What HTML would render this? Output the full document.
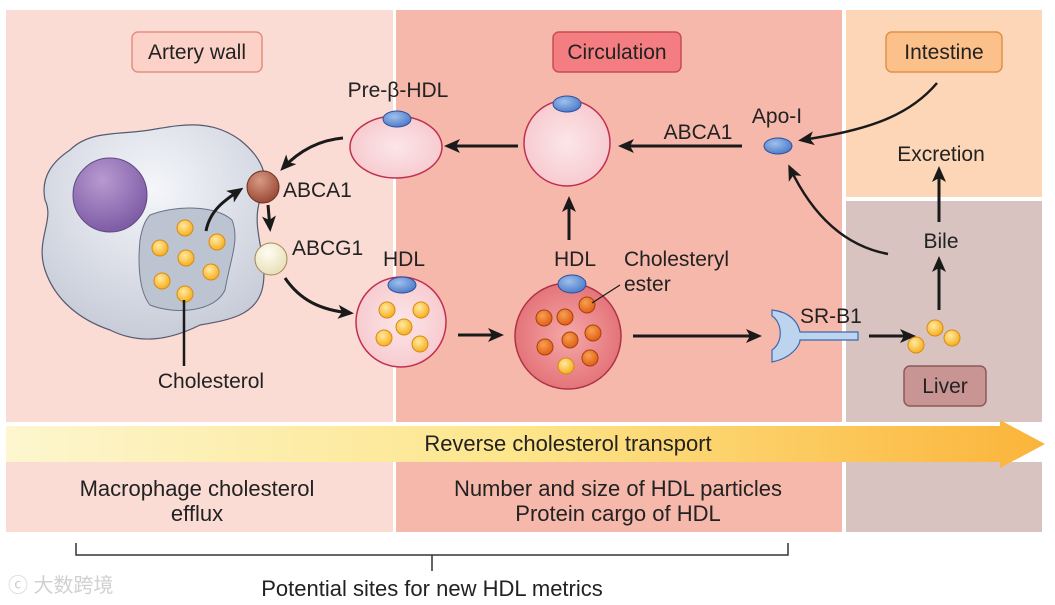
<!DOCTYPE html>
<html><head><meta charset="utf-8"><style>
html,body{margin:0;padding:0;background:#fff;}
svg{display:block;font-family:"Liberation Sans",Arial,sans-serif;}
</style></head><body>
<svg width="1055" height="605" viewBox="0 0 1055 605" xmlns="http://www.w3.org/2000/svg">
<defs>
<linearGradient id="band" x1="0" x2="1" y1="0" y2="0">
<stop offset="0" stop-color="#fdf6cf"/><stop offset="0.5" stop-color="#fde58a"/><stop offset="1" stop-color="#fbb43a"/>
</linearGradient>
<radialGradient id="yel" cx="0.4" cy="0.35" r="0.6"><stop offset="0" stop-color="#ffeaa0"/><stop offset="1" stop-color="#f7b42c"/></radialGradient>
<radialGradient id="org" cx="0.4" cy="0.35" r="0.6"><stop offset="0" stop-color="#f8a050"/><stop offset="1" stop-color="#e2651a"/></radialGradient>
<radialGradient id="blue" cx="0.4" cy="0.35" r="0.7"><stop offset="0" stop-color="#9fc0ec"/><stop offset="1" stop-color="#4a78c8"/></radialGradient>
<radialGradient id="cell" cx="0.5" cy="0.3" r="0.7"><stop offset="0" stop-color="#f4f6fa"/><stop offset="1" stop-color="#c8ccd8"/></radialGradient>
<radialGradient id="pink" cx="0.5" cy="0.5" r="0.6"><stop offset="0" stop-color="#fce6e8"/><stop offset="1" stop-color="#f6c6cb"/></radialGradient>
<radialGradient id="red" cx="0.5" cy="0.5" r="0.6"><stop offset="0" stop-color="#f6a8a8"/><stop offset="1" stop-color="#e06a70"/></radialGradient>
<radialGradient id="purp" cx="0.4" cy="0.3" r="0.7"><stop offset="0" stop-color="#b89ad0"/><stop offset="1" stop-color="#7e5ca6"/></radialGradient>
<radialGradient id="brown" cx="0.4" cy="0.3" r="0.7"><stop offset="0" stop-color="#d89a84"/><stop offset="1" stop-color="#9a4a36"/></radialGradient>
<radialGradient id="cream" cx="0.4" cy="0.3" r="0.7"><stop offset="0" stop-color="#fffdf0"/><stop offset="1" stop-color="#e8dfba"/></radialGradient>
<marker id="ahb" markerWidth="16" markerHeight="16" refX="12" refY="8" orient="auto" markerUnits="userSpaceOnUse">
<path d="M0,1 L16,8 L0,15 L4,8 Z" fill="#1a1a1a"/></marker>
</defs>
<rect x="6" y="10" width="387" height="522" fill="#fbdcd5"/>
<rect x="396" y="10" width="446" height="522" fill="#f7b8ac"/>
<rect x="846" y="10" width="196" height="187" fill="#fcd6b6"/>
<rect x="846" y="201" width="196" height="331" fill="#d8c3c0"/>
<rect x="6" y="422" width="1036" height="40" fill="#fff"/>
<path d="M6,426 L1000,426 L1000,420 L1045,444 L1000,468 L1000,462 L6,462 Z" fill="url(#band)"/>
<text x="568" y="451" font-size="22" text-anchor="middle" fill="#222">Reverse cholesterol transport</text>
<rect x="132" y="32" width="130" height="40" rx="6" fill="#fcd2c8" stroke="#e39080" stroke-width="1.5"/>
<text x="197" y="59" font-size="21" text-anchor="middle" fill="#222">Artery wall</text>
<rect x="553" y="32" width="128" height="40" rx="6" fill="#f37d80" stroke="#c84c50" stroke-width="1.5"/>
<text x="617" y="59" font-size="21" text-anchor="middle" fill="#222">Circulation</text>
<rect x="886" y="32" width="116" height="40" rx="6" fill="#fcc08a" stroke="#e0904a" stroke-width="1.5"/>
<text x="944" y="59" font-size="21" text-anchor="middle" fill="#222">Intestine</text>
<rect x="904" y="366" width="82" height="40" rx="6" fill="#c99594" stroke="#8c5a58" stroke-width="1.5"/>
<text x="945" y="393" font-size="21" text-anchor="middle" fill="#222">Liver</text>
<path d="M70,150 C90,130 120,135 150,130 C180,125 210,118 240,140 C265,160 270,180 260,200 C250,230 270,260 262,290 C255,315 230,320 200,325 C170,340 140,345 110,330 C80,320 55,300 45,270 C35,240 55,220 45,200 C40,175 55,160 70,150 Z" fill="url(#cell)" stroke="#555a70" stroke-width="1.2"/>
<circle cx="110" cy="195" r="37" fill="url(#purp)" stroke="#5e4a80" stroke-width="1"/>
<path d="M150,215 C175,205 215,205 232,220 C240,240 230,260 225,290 C215,312 175,315 150,305 C138,290 138,260 140,240 C142,228 145,220 150,215 Z" fill="#bcc4d2" stroke="#6a7088" stroke-width="1"/>
<g fill="url(#yel)" stroke="#d98a10" stroke-width="1">
<circle cx="185" cy="228" r="8"/><circle cx="160" cy="248" r="8"/><circle cx="217" cy="242" r="8"/><circle cx="186" cy="258" r="8"/><circle cx="211" cy="272" r="8"/><circle cx="162" cy="281" r="8"/><circle cx="185" cy="294" r="8"/></g>
<line x1="184" y1="300" x2="184" y2="366" stroke="#1a1a1a" stroke-width="2.5"/>
<text x="211" y="388" font-size="21" text-anchor="middle" fill="#222">Cholesterol</text>
<path d="M206,231 C210,210 225,200 240,190" fill="none" stroke="#1a1a1a" stroke-width="3" marker-end="url(#ahb)"/>
<circle cx="263" cy="187" r="16" fill="url(#brown)" stroke="#6a3020" stroke-width="1"/>
<text x="283" y="197" font-size="21" fill="#222">ABCA1</text>
<path d="M268,205 L270,228" fill="none" stroke="#1a1a1a" stroke-width="3" marker-end="url(#ahb)"/>
<circle cx="271" cy="259" r="16" fill="url(#cream)" stroke="#a08a50" stroke-width="1"/>
<text x="292" y="255" font-size="21" fill="#222">ABCG1</text>
<path d="M285,278 C300,300 320,310 350,313" fill="none" stroke="#1a1a1a" stroke-width="3" marker-end="url(#ahb)"/>
<text x="398" y="97" font-size="21" text-anchor="middle" fill="#222">Pre-β-HDL</text>
<ellipse cx="396" cy="147" rx="46" ry="31" fill="url(#pink)" stroke="#c03050" stroke-width="1.5"/>
<ellipse cx="397" cy="119" rx="14" ry="8" fill="url(#blue)" stroke="#2c4f9c" stroke-width="1"/>
<path d="M343,138 C320,140 300,150 283,168" fill="none" stroke="#1a1a1a" stroke-width="3" marker-end="url(#ahb)"/>
<text x="404" y="266" font-size="21" text-anchor="middle" fill="#222">HDL</text>
<circle cx="401" cy="322" r="45" fill="url(#pink)" stroke="#c03050" stroke-width="1.5"/>
<ellipse cx="402" cy="285" rx="14" ry="8" fill="url(#blue)" stroke="#2c4f9c" stroke-width="1"/>
<g fill="url(#yel)" stroke="#d98a10" stroke-width="1">
<circle cx="387" cy="310" r="8"/><circle cx="421" cy="310" r="8"/><circle cx="404" cy="327" r="8"/><circle cx="384" cy="338" r="8"/><circle cx="420" cy="344" r="8"/></g>
<line x1="458" y1="335" x2="500" y2="335" stroke="#1a1a1a" stroke-width="3" marker-end="url(#ahb)"/>
<line x1="518" y1="146" x2="448" y2="146" stroke="#1a1a1a" stroke-width="3" marker-end="url(#ahb)"/>
<circle cx="567" cy="143" r="43" fill="url(#pink)" stroke="#c03050" stroke-width="1.5"/>
<ellipse cx="567" cy="104" rx="14" ry="8" fill="url(#blue)" stroke="#2c4f9c" stroke-width="1"/>
<line x1="569" y1="240" x2="569" y2="200" stroke="#1a1a1a" stroke-width="3" marker-end="url(#ahb)"/>
<text x="575" y="266" font-size="21" text-anchor="middle" fill="#222">HDL</text>
<text x="624" y="266" font-size="21" fill="#222">Cholesteryl</text>
<text x="624" y="291" font-size="21" fill="#222">ester</text>
<circle cx="568" cy="336" r="53" fill="url(#red)" stroke="#b03048" stroke-width="1.5"/>
<ellipse cx="572" cy="284" rx="14" ry="9" fill="url(#blue)" stroke="#2c4f9c" stroke-width="1"/>
<g fill="url(#org)" stroke="#a84010" stroke-width="1">
<circle cx="587" cy="305" r="8"/><circle cx="544" cy="318" r="8"/><circle cx="565" cy="317" r="8"/><circle cx="593" cy="333" r="8"/><circle cx="570" cy="340" r="8"/><circle cx="545" cy="347" r="8"/><circle cx="590" cy="358" r="8"/></g>
<circle cx="566" cy="366" r="8" fill="url(#yel)" stroke="#d98a10" stroke-width="1"/>
<line x1="592" y1="303" x2="620" y2="285" stroke="#1a1a1a" stroke-width="1.2"/>
<line x1="633" y1="336" x2="758" y2="336" stroke="#1a1a1a" stroke-width="3" marker-end="url(#ahb)"/>
<path d="M772,310 L772,316 C782,322 784,342 772,350 L772,362 C792,358 800,345 800,340 L858,340 L858,332 L800,332 C798,322 790,312 772,310 Z" fill="#bcd4ee" stroke="#3a6ab0" stroke-width="1.2"/>
<text x="800" y="323" font-size="21" fill="#222">SR-B1</text>
<line x1="869" y1="336" x2="912" y2="336" stroke="#1a1a1a" stroke-width="3" marker-end="url(#ahb)"/>
<g fill="url(#yel)" stroke="#d98a10" stroke-width="1">
<circle cx="916" cy="345" r="8"/><circle cx="935" cy="328" r="8"/><circle cx="952" cy="338" r="8"/></g>
<line x1="939" y1="310" x2="939" y2="260" stroke="#1a1a1a" stroke-width="3" marker-end="url(#ahb)"/>
<text x="941" y="248" font-size="21" text-anchor="middle" fill="#222">Bile</text>
<line x1="939" y1="222" x2="939" y2="170" stroke="#1a1a1a" stroke-width="3" marker-end="url(#ahb)"/>
<text x="941" y="161" font-size="21" text-anchor="middle" fill="#222">Excretion</text>
<text x="777" y="123" font-size="21" text-anchor="middle" fill="#222">Apo-I</text>
<ellipse cx="778" cy="146" rx="14" ry="8" fill="url(#blue)" stroke="#2c4f9c" stroke-width="1"/>
<line x1="742" y1="146" x2="622" y2="146" stroke="#1a1a1a" stroke-width="3" marker-end="url(#ahb)"/>
<text x="698" y="139" font-size="21" text-anchor="middle" fill="#222">ABCA1</text>
<path d="M937,83 C910,115 870,130 802,140" fill="none" stroke="#1a1a1a" stroke-width="2.5" marker-end="url(#ahb)"/>
<path d="M888,254 C840,245 810,210 790,168" fill="none" stroke="#1a1a1a" stroke-width="2.5" marker-end="url(#ahb)"/>
<text x="197" y="496" font-size="22" text-anchor="middle" fill="#222">Macrophage cholesterol</text>
<text x="197" y="521" font-size="22" text-anchor="middle" fill="#222">efflux</text>
<text x="618" y="496" font-size="22" text-anchor="middle" fill="#222">Number and size of HDL particles</text>
<text x="618" y="521" font-size="22" text-anchor="middle" fill="#222">Protein cargo of HDL</text>
<path d="M76,543 L76,555 L788,555 L788,543" fill="none" stroke="#333" stroke-width="1.5"/>
<line x1="432" y1="555" x2="432" y2="571" stroke="#333" stroke-width="1.5"/>
<text x="432" y="596" font-size="22" text-anchor="middle" fill="#222">Potential sites for new HDL metrics</text>
<text x="8" y="592" font-size="20" fill="#d0d0d0" font-family="Liberation Sans, Noto Sans CJK SC, sans-serif">ⓒ 大数跨境</text>
</svg>
</body></html>
